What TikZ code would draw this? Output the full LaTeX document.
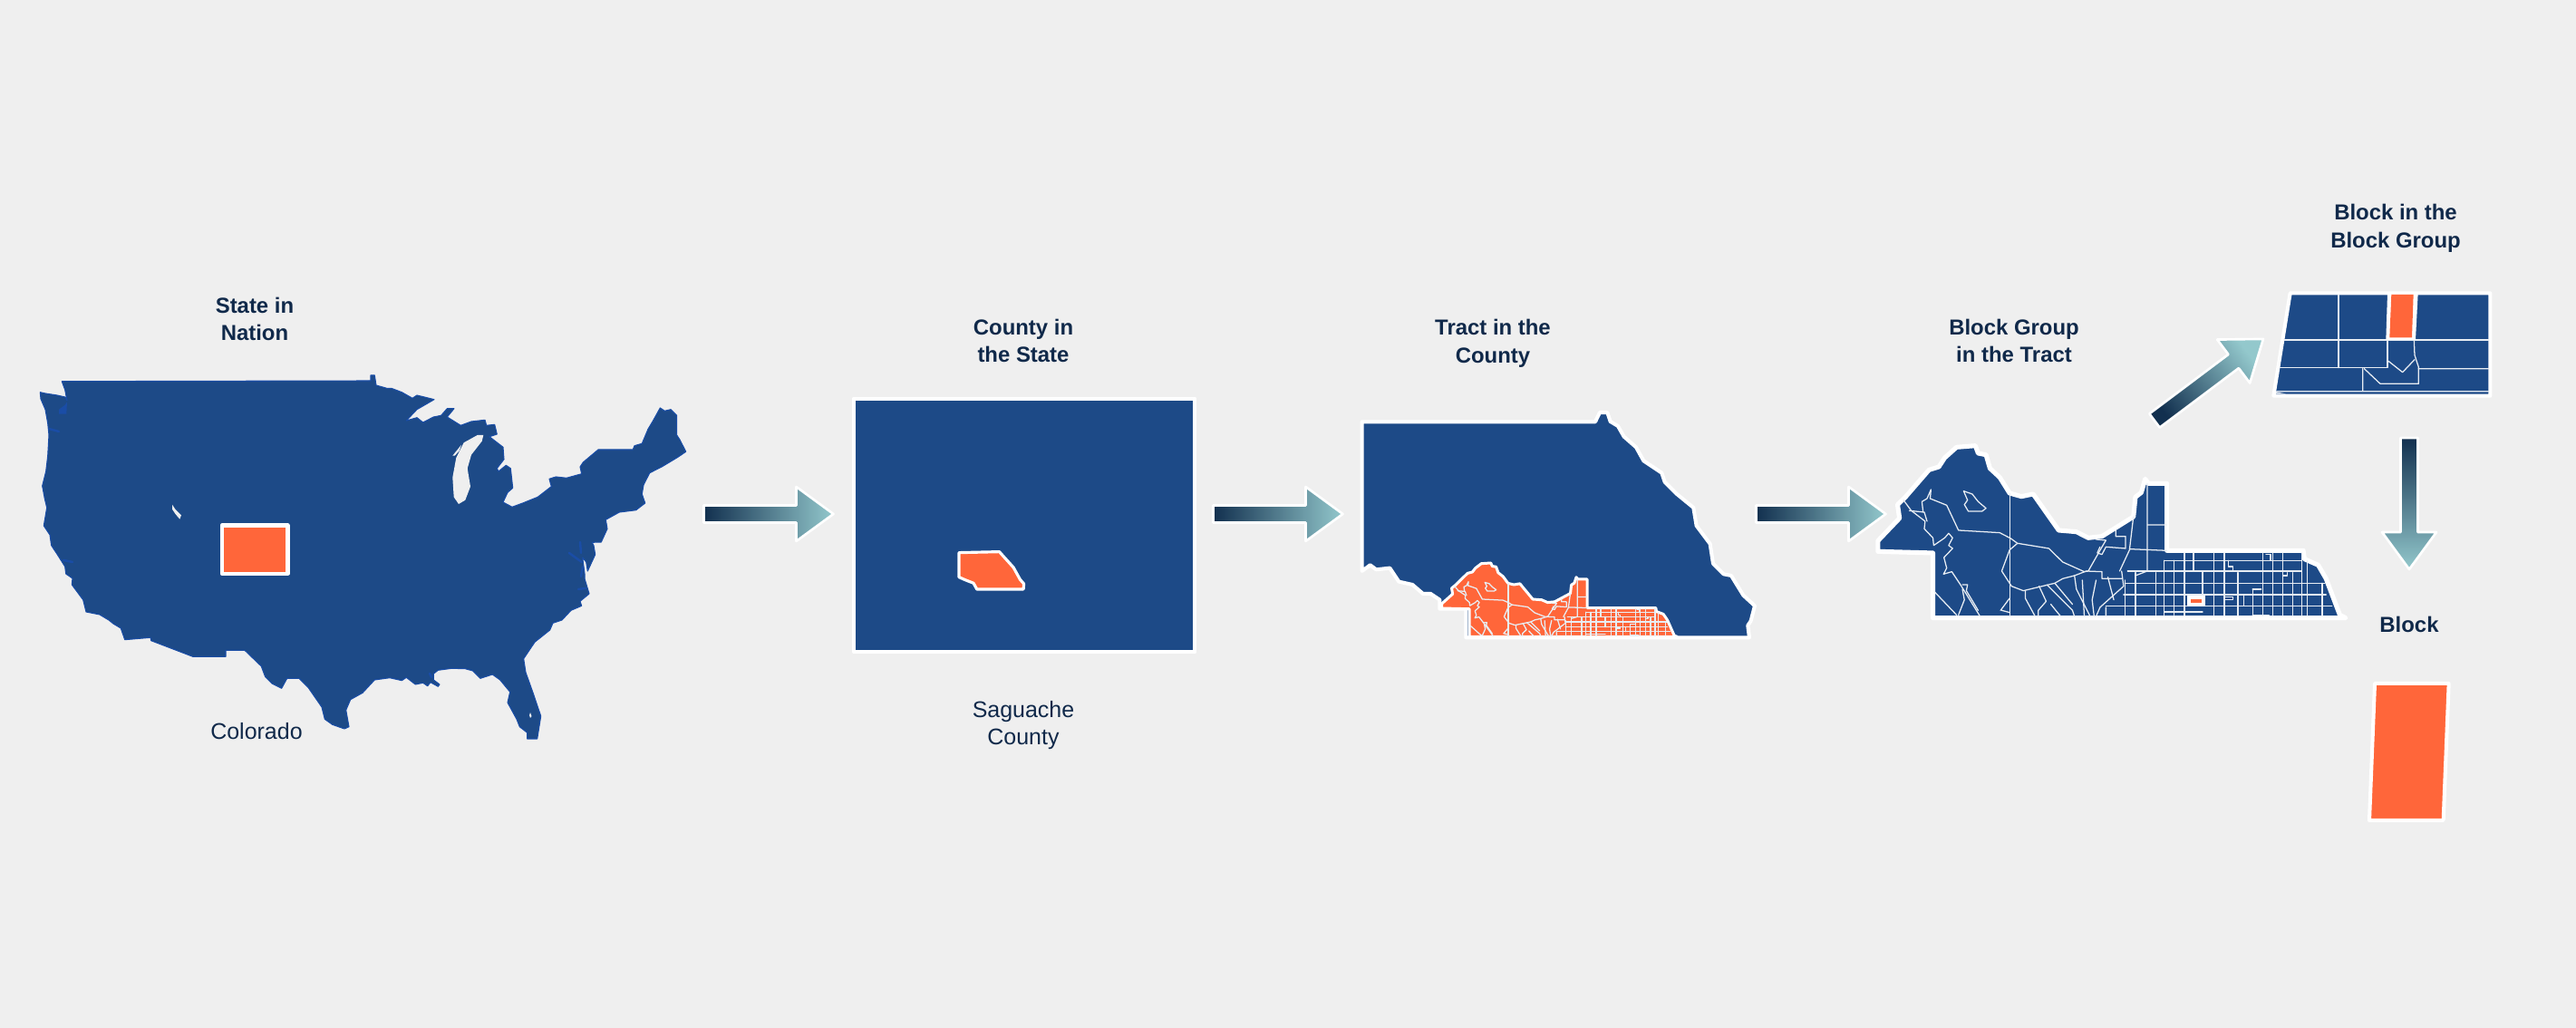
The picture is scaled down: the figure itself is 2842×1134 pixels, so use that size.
\documentclass[tikz,border=0pt]{standalone}
\usepackage{fontspec}
\setmainfont{Liberation Sans}
\definecolor{pagegray}{HTML}{EFEFEF}
\definecolor{mapblue}{HTML}{1D4A87}
\definecolor{coastblue}{HTML}{1A4DA6}
\definecolor{maporange}{HTML}{FF663A}
\definecolor{inkblue}{HTML}{10294A}
\definecolor{arrowdark}{HTML}{12304F}
\definecolor{arrowlight}{HTML}{93C8CC}
\tikzset{
	caption/.style={font=\fontsize{6.8}{8.7}\selectfont\bfseries, text=inkblue, align=center, inner sep=0pt},
	note/.style={font=\fontsize{7.1}{8.7}\selectfont, text=inkblue, align=center, inner sep=0pt},
	bluemap/.style={fill=mapblue, draw=white, line width=1.15pt},
	orangemap/.style={fill=maporange, draw=white, line width=1.15pt},
	roads/.style={draw=white!90!mapblue, line width=.36pt}
}
%Outline of the tract, shared by two panels
\def\tractshape{(350,415)--(350,380)--(405,305)--(400,260)--(420,235)--(480,145)--(505,135)--(520,105)--(550,70)--(598,65)--(605,90)--(625,95)--(635,140)--(660,170)--(685,222)--(715,233)--(745,225)--(810,345)--(855,350)--(885,370)--(920,365)--(1000,300)--(1005,235)--(1020,220)--(1030,175)--(1038,190)--(1085,190)--(1085,412)--(1432,412)--(1435,440)--(1470,460)--(1490,505)--(1525,625)--(1540,635)--(490,635)--(490,420)--cycle}
%Roads inside the tract
\def\tractroads{
	\draw[roads] (415,245)--(435,280)--(470,315)--(468,340)--(490,370)--(492,395)--(520,370)--(530,355)--(540,370)--(530,395)--(540,405)--(518,435)--(525,470)--(517,490)--(538,482)--(560,525)--(610,630);
	\draw[roads] (430,280)--(468,285)--(475,315);
	\draw[roads] (465,285)--(462,250)--(475,240)--(485,210)--(483,240)--(525,262)--(555,345)--(660,353)--(688,372)--(705,388)--(785,405)--(820,450)--(875,482)--(885,480)--(920,400)--(930,378)--(905,375);
	\draw[roads] (686,220)--(686,630);
	\draw[roads] (705,388)--(685,410)--(665,480)--(690,530)--(720,545)--(800,520)--(820,505)--(850,495)--(880,480)--(920,482)--(920,505)--(970,505);
	\draw[roads] (568,215)--(590,225)--(605,250)--(625,272)--(615,282)--(580,282)--(570,260)--(578,245)--cycle;
	\draw[roads] (495,550)--(550,625) (565,525)--(578,525)--(575,545)--(605,610) (565,540)--(570,575)--(555,625);
	\draw[roads] (662,610)--(685,570) (665,610)--(685,617) (725,545)--(725,570)--(750,630) (760,530)--(778,580)--(758,610)--(758,630);
	\draw[roads] (780,525)--(845,610)--(850,630) (800,520)--(845,590) (790,590)--(815,630) (850,495)--(855,540)--(890,630);
	\draw[roads] (870,510)--(875,630) (905,510)--(895,575)--(900,630) (935,500)--(950,575) (970,480)--(975,530)--(945,565)--(915,600)--(905,630);
	\draw[roads] (1000,300)--(990,410)--(965,480) (955,345)--(955,365)--(980,365)--(980,405)--(930,400)--(920,425)--(908,420)--(915,400);
	\draw[roads] (1035,190)--(1035,480)--(1005,495) (1035,327)--(1085,327) (990,407)--(1085,412) (930,600)--(930,630);
	\foreach \x/\a/\b in {978/510/628,1005/485/628,1057/485/625,1078/445/628,1103/445/625,1130/420/628,1153/420/480,1176/480/560,1205/420/628,1231/420/628,1266/485/628,1280/560/595,1303/540/625,1330/420/628,1354/420/628,1380/420/628,1405/485/628,1428/420/628,1443/445/628,1480/520/628}
	\draw[roads] (\x,\a)--(\x,\b);
	\foreach \y/\a/\b in {445/1080/1428,480/985/1428,520/978/1487,558/975/1490,595/930/1505,615/1078/1176,625/1303/1345}
	\draw[roads] (\a,\y)--(\b,\y);
	\draw[roads] (1241,445)--(1241,465)--(1253,465)--(1253,480) (1380,495)--(1392,495)--(1392,485) (1234,565)--(1253,565)--(1253,575)--(1234,575) (1303,540)--(1325,540) (1337,425)--(1349,425)--(1349,445);
}
%Block arrow: start coordinate, direction, length
\newcommand{\flowarrow}[3]{
	\pgfmathsetmacro{\shadeangle}{#2-90}
	\pgfmathsetmacro{\headbase}{#3-41}
	\begin{scope}[shift={(#1)},rotate=#2]
		\shade[draw=white, line width=.75pt, bottom color=arrowdark, top color=arrowlight, shading angle=\shadeangle]
		(0,-9.5)--(\headbase,-9.5)--(\headbase,-30)--(#3,0)--(\headbase,30)--(\headbase,9.5)--(0,9.5)--cycle;
	\end{scope}
}
\begin{document}
\begin{tikzpicture}[x=.01cm, y=-.01cm, line join=round, line cap=round]
	\fill[pagegray] (0,0) rectangle (2842,1134);
	\useasboundingbox (0,0) rectangle (2842,1134);
	%Nation
	\filldraw[fill=mapblue, draw=coastblue, line width=.3pt] (68.3,420.7)--(409,420)--(409,414)--(413.3,414)--(415,425)--(426.7,428.3)--(431.7,428.3)--(443.3,432.7)--(455,439.3)--(460,436)--(479,440.7)--(460,451.7)--(448.3,464)--(460,460.7)--(466.7,466)--(478.3,460)--(486.7,458.3)--(493.3,450.7)--(501,450.7)--(493.3,460)--(508.3,469.3)--(520,465)--(535,463.3)--(536.7,469.3)--(545.7,468.3)--(548.3,479)--(540,481.7)--(555,493.3)--(556,506.7)--(548.3,516.7)--(550,520)--(558.3,513.3)--(563.3,516.7)--(565.7,538.3)--(560,543.3)--(555,554)--(565,559.3)--(576.7,555)--(593.3,548.3)--(608.3,536.7)--(606,528.3)--(613.3,526)--(625,527.3)--(641.7,522.7)--(640,515)--(643.3,510)--(660,496)--(698.3,496)--(700,491.7)--(708.3,489.3)--(715,473.3)--(720,465)--(728.3,450)--(733.3,453.3)--(740,451.7)--(746.7,458.3)--(746.7,480)--(750,485)--(756.7,498.3)--(746.7,505)--(730,515)--(716.7,521.7)--(710,535)--(708.3,545)--(711.7,555)--(701.7,562.7)--(683.3,565)--(668.3,573.3)--(670,583.3)--(663.3,598)--(653.3,598.3)--(655,601.7)--(656.7,611.7)--(648.3,630)--(646.7,620)--(642.7,615)--(645,633)--(645,638.3)--(650,655)--(640,663.3)--(641.7,668.3)--(630,673.3)--(620,684)--(610,687.3)--(606.7,695)--(590,708.3)--(577.7,726.7)--(580,741.7)--(588.3,765)--(596.7,790)--(592.7,815)--(581.7,815)--(581.7,808.3)--(573.3,801.7)--(570,793.3)--(560,775)--(562.7,763.3)--(551.7,750)--(543.3,744)--(530,748.3)--(521.7,740)--(513.3,737.7)--(498.3,737.3)--(483.3,739.3)--(478.3,743.3)--(478.3,750)--(485,755)--(483.3,757.3)--(475,752.7)--(471.7,756.7)--(466.7,753.3)--(458.3,755)--(448.3,747.3)--(443.3,750.7)--(430,747.7)--(413.3,750)--(400,764.3)--(386.7,771.7)--(381.7,783.3)--(385,801.7)--(380,804)--(366.7,799.3)--(358.3,793.3)--(355,780)--(340,758.3)--(330,748.3)--(316.7,748.3)--(310.7,759.3)--(300,754)--(292.7,746.7)--(288.3,735)--(270,717.3)--(249,717.3)--(249,724.3)--(212.7,724.3)--(166.7,706.7)--(166,703.3)--(137.7,705.7)--(133.3,693)--(125,688)--(120,684)--(110,678)--(95,675)--(91.7,661.7)--(79.3,645)--(80,638)--(72.7,633)--(71.7,625)--(63.3,611.7)--(56.7,601.7)--(55,590)--(48.3,580)--(51.7,560)--(49.3,550)--(46.7,536)--(50.7,520)--(52.7,503)--(54,480)--(52.7,466.7)--(50,451.7)--(45,440)--(44.3,432.7)--(50,434)--(63,436)--(71.7,438)--(74,441.7)--(71.7,430)--cycle;
	\fill[pagegray] (533.3,480)--(526.7,480)--(511.7,488.3)--(503.3,505)--(499.3,526.7)--(500.7,548.3)--(506,556)--(513.3,551.7)--(519,536.7)--(515.7,516.7)--(520,501.7)--(531.7,486.7)--cycle;
	\fill[pagegray] (499.3,502.7)--(509,490.7)--(506.7,497.3)--(501.7,502.7)--cycle;
	\fill[pagegray] (190,556.7)--(193.3,561.7)--(200,568.3)--(198.3,572.7)--(193.3,566.7)--(190,561.7)--cycle;
	\fill[pagegray] (585,786)--(586.5,790)--(585,792)--(584,789)--cycle;
	%Brighter water along the coasts
	\fill[coastblue] (65,456.7)--(73.3,456.7)--(74,443.3)--(71.7,446.7)--(65,451.7)--cycle;
	\draw[coastblue, line width=.7pt] (54,473)--(65,476) (628,610)--(641.7,620) (640,598)--(641,610) (638,650)--(646,649) (643,625)--(641,636) (70,618)--(80,620) (474,743)--(476,747);
	\filldraw[orangemap] (244.8,579.5)--(317.5,579.5)--(317.5,632.8)--(244.8,632.8)--cycle;
	%State
	\begin{scope}[shift={(760,320)}, xscale=.4591, yscale=.3333]
		\filldraw[bluemap] (396,359)--(1216,359)--(1216,1198)--(396,1198)--cycle;
		\filldraw[orangemap, line width=.9pt] (649,869)--(746,866)--(780,918)--(796,958)--(805,972)--(804,990)--(692,990)--(684,970)--(662,958)--(649,950)--cycle;
	\end{scope}
	%County
	\begin{scope}[shift={(1480,320)}, scale=.3333]
		\filldraw[bluemap] (68,436)--(840,436)--(855,405)--(880,405)--(890,435)--(915,450)--(935,485)--(975,520)--(1000,565)--(1060,605)--(1070,635)--(1110,675)--(1165,720)--(1175,780)--(1220,840)--(1230,905)--(1265,940)--(1290,945)--(1330,1010)--(1368,1045)--(1355,1095)--(1345,1110)--(1350,1150)--(412,1150)--(412,1055)--(325,1055)--(325,1025)--(295,1005)--(270,1005)--(235,975)--(190,965)--(160,920)--(115,925)--(95,910)--(68,930)--cycle;
	\end{scope}
	\begin{scope}[shift={(1514.2,611.7)}, xscale=.2183, yscale=.1429]
		\filldraw[orangemap, line width=.85pt] \tractshape;
		\begin{scope}
			\clip \tractshape;
			\tractroads
		\end{scope}
	\end{scope}
	%Tract
	\begin{scope}[shift={(1920,470)}, xscale=.4337, yscale=.3333]
		\filldraw[bluemap, line width=1.45pt] \tractshape;
		\begin{scope}
			\clip \tractshape;
			\tractroads
		\end{scope}
		\fill[white] (1137,560) rectangle (1182,598);
		\fill[maporange] (1145,574) rectangle (1174,586);
	\end{scope}
	%Block group
	\begin{scope}[shift={(2340,200)}, scale=.3333]
		\filldraw[bluemap] (560,370)--(1222,370)--(1222,710)--(505,710)--cycle;
		\draw[roads] (720,375)--(720,617) (540,525)--(1217,525) (525,617)--(882,617)--(882,525);
		\draw[roads] (970,525)--(972,575)--(985,615)--(985,670)--(858,670)--(805,620);
		\draw[roads] (885,595)--(932,632)--(972,590) (985,620)--(1217,620) (800,620)--(800,695) (515,695)--(1217,695);
		\fill[white] (512,697)--(545,703)--(512,703)--cycle;
		\fill[white] (882,372)--(983,372)--(975,525)--(877,525)--cycle;
		\fill[maporange] (895,375)--(968,375)--(963,517)--(889,517)--cycle;
	\end{scope}
	%Block
	\begin{scope}[shift={(2560,460)}, scale=.3333]
		\filldraw[orangemap] (180,882)--(425,882)--(407,1335)--(162,1335)--cycle;
	\end{scope}
	%Arrows
	\coordinate (arrownation) at (776.5,567);
	\coordinate (arrowstate) at (1338.5,567);
	\coordinate (arrowcounty) at (1937.5,567);
	\coordinate (arrowtract) at (2377,464);
	\coordinate (arrowgroup) at (2658,483);
	\flowarrow{arrownation}{0}{143}
	\flowarrow{arrowstate}{0}{143}
	\flowarrow{arrowcounty}{0}{143}
	\flowarrow{arrowtract}{36.9}{150}
	\flowarrow{arrowgroup}{-90}{145}
	%Labels
	\node[caption] (nationcap) at (281,352) {State in\\Nation};
	\node[note] (coloradonote) at (283,807) {Colorado};
	\node[caption] (statecap) at (1129,376) {County in\\the State};
	\node[note] (saguachenote) at (1129,800) {Saguache\\County};
	\node[caption] (countycap) at (1647,379) {Tract in the\\County};
	\node[caption] (tractcap) at (2222,376) {Block Group\\in the Tract};
	\node[caption] (groupcap) at (2643,252) {Block in the\\Block Group};
	\node[caption] (blockcap) at (2658,689) {Block};
\end{tikzpicture}
\end{document}
